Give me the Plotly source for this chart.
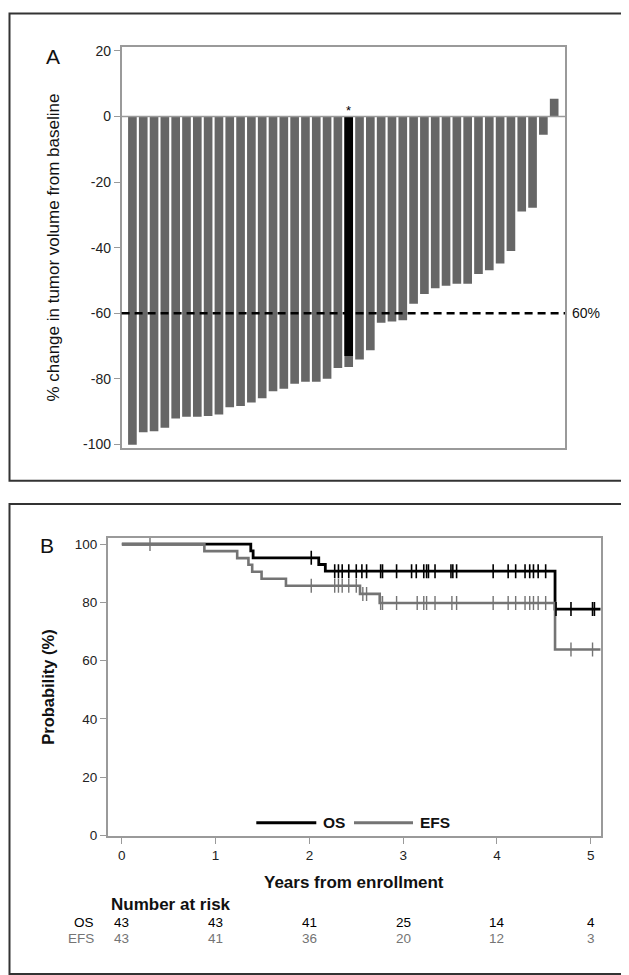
import plotly.graph_objects as go

# ---------------- Panel A data ----------------
patients = list(range(40))
pct_change = [-100.1, -96.3, -96.0, -94.9, -92.1, -91.6, -91.6, -91.3, -90.9, -88.7,
              -88.3, -87.2, -85.9, -83.8, -83.0, -81.5, -80.9, -80.9, -80.0, -76.7,
              -76.4, -74.1, -71.3, -62.9, -62.5, -62.1, -57.1, -54.1, -52.4, -51.6,
              -51.0, -51.0, -48.0, -46.9, -44.8, -41.0, -29.0, -27.8, -5.6, 5.4]
highlight_patient = [20]
highlight_value = [-73.0]
threshold = -60
threshold_label = "60%"
a_ticks = [20, 0, -20, -40, -60, -80, -100]
a_ticktext = ["20", "0", "-20", "-40", "-60", "-80", "-100"]

# ---------------- Panel B data ----------------
os_time = [0, 1.375, 1.40, 2.10, 2.17, 4.62, 5.107]
os_surv = [100, 97.7, 95.3, 93.0, 90.7, 77.7, 77.7]
efs_time = [0, 0.88, 1.23, 1.35, 1.39, 1.49, 1.75, 2.54, 2.75, 4.62, 5.107]
efs_surv = [100, 97.6, 95.2, 92.9, 90.5, 88.1, 85.7, 82.9, 79.8, 63.8, 63.8]
os_censor = [2.02, 2.27, 2.31, 2.35, 2.42, 2.50, 2.56, 2.61, 2.76, 2.78, 2.93, 3.09,
             3.14, 3.22, 3.25, 3.27, 3.34, 3.51, 3.53, 3.57, 3.96, 4.12, 4.20, 4.30,
             4.35, 4.39, 4.44, 4.52, 4.63, 4.79, 5.02, 5.04]
efs_censor = [0.30, 2.02, 2.27, 2.31, 2.35, 2.42, 2.50, 2.57, 2.61, 2.76, 2.78, 2.93,
              3.15, 3.22, 3.25, 3.34, 3.52, 3.57, 3.96, 4.12, 4.20, 4.30, 4.35, 4.39,
              4.44, 4.52, 4.79, 5.02]
risk_times = [0, 1, 2, 3, 4, 5]
os_risk = [43, 43, 41, 25, 14, 4]
efs_risk = [43, 41, 36, 20, 12, 3]

W, H = 629, 975
FONT = "Arial, Liberation Sans, sans-serif"
BAR_GRAY = "#666666"
EFS_GRAY = "#747474"
FRAME_GRAY = "#9a9a9a"
TXT = "#111111"


def px(x):
    return x / W


def py(y):
    return 1 - y / H


def step_at(times, surv, t):
    v = surv[0]
    for ti, si in zip(times, surv):
        if ti <= t:
            v = si
    return v


fig = go.Figure()

# Panel A bars
fig.add_trace(go.Bar(x=patients, y=pct_change, marker=dict(color=BAR_GRAY, line=dict(width=0)),
                     xaxis="x", yaxis="y", showlegend=False))
fig.add_trace(go.Bar(x=highlight_patient, y=highlight_value, marker=dict(color="#000000", line=dict(width=0)),
                     xaxis="x", yaxis="y", showlegend=False))

# Panel B curves
fig.add_trace(go.Scatter(x=os_time, y=os_surv, mode="lines", line=dict(color="#000000", width=2.8, shape="hv"),
                         xaxis="x2", yaxis="y2", showlegend=False))
fig.add_trace(go.Scatter(x=efs_time, y=efs_surv, mode="lines", line=dict(color=EFS_GRAY, width=2.6, shape="hv"),
                         xaxis="x2", yaxis="y2", showlegend=False))
fig.add_trace(go.Scatter(x=os_censor, y=[step_at(os_time, os_surv, t) for t in os_censor], mode="markers",
                         marker=dict(symbol="line-ns", size=10, line=dict(color="#000000", width=1.6)),
                         xaxis="x2", yaxis="y2", showlegend=False))
fig.add_trace(go.Scatter(x=efs_censor, y=[step_at(efs_time, efs_surv, t) for t in efs_censor], mode="markers",
                         marker=dict(symbol="line-ns", size=10, line=dict(color=EFS_GRAY, width=1.4)),
                         xaxis="x2", yaxis="y2", showlegend=False))

axis_common = dict(showline=True, mirror=True, linecolor=FRAME_GRAY, linewidth=1.5, showgrid=False,
                   zeroline=False)

fig.update_layout(
    width=W, height=H,
    margin=dict(l=0, r=0, t=0, b=0),
    paper_bgcolor="white", plot_bgcolor="white",
    barmode="overlay", bargap=0.2,
    font=dict(family=FONT, color=TXT),
    xaxis=dict(domain=[px(113.6), px(557)], range=[-1, 40], showticklabels=False, ticks="",
               anchor="y", **axis_common),
    yaxis=dict(domain=[py(441), py(35.7)], range=[-101.1, 21.1], tickvals=a_ticks, ticktext=a_ticktext,
               ticks="outside", ticklen=6, tickcolor=FRAME_GRAY, anchor="x",
               tickfont=dict(family=FONT, size=14, color="#222222"), **axis_common),
    xaxis2=dict(domain=[px(99.8), px(592.7)], range=[-0.15, 5.107], tickvals=[0, 1, 2, 3, 4, 5],
                ticks="outside", ticklen=6, tickcolor=FRAME_GRAY, anchor="y2",
                tickfont=dict(family=FONT, size=13.5, color="#222222"), **axis_common),
    yaxis2=dict(domain=[py(833.3), py(531.7)], range=[-0.2, 102.2], tickvals=[0, 20, 40, 60, 80, 100],
                ticks="outside", ticklen=6, tickcolor=FRAME_GRAY, anchor="x2",
                tickfont=dict(family=FONT, size=13.5, color="#222222"), **axis_common),
)

shapes = []
# outer panel frames
shapes.append(dict(type="rect", xref="paper", yref="paper", x0=px(1.5), x1=px(627), y0=py(474), y1=py(1.5),
                   line=dict(color="#333333", width=2)))
shapes.append(dict(type="rect", xref="paper", yref="paper", x0=px(1.5), x1=px(627), y0=py(973), y1=py(497.5),
                   line=dict(color="#333333", width=2)))
# zero line panel A
shapes.append(dict(type="line", xref="x domain", yref="y", x0=0, x1=1, y0=0, y1=0,
                   line=dict(color=FRAME_GRAY, width=1.5)))
# threshold dashed line
shapes.append(dict(type="line", xref="x domain", yref="y", x0=0, x1=1, y0=threshold, y1=threshold,
                   line=dict(color="#000000", width=2.5, dash="8px,5px")))
# legend line samples
shapes.append(dict(type="line", xref="paper", yref="paper", x0=px(248.3), x1=px(308.3), y0=py(820), y1=py(820),
                   line=dict(color="#000000", width=3)))
shapes.append(dict(type="line", xref="paper", yref="paper", x0=px(346), x1=px(405), y0=py(820), y1=py(820),
                   line=dict(color=EFS_GRAY, width=3)))
fig.update_layout(shapes=shapes)


def note(text, x, y, size, color=TXT, xanchor="center", xref="paper", yref="paper", **kw):
    return dict(text=text, x=x, y=y, xref=xref, yref=yref, xanchor=xanchor, yanchor="middle",
                showarrow=False, font=dict(family=FONT, size=size, color=color), **kw)


ann = []
ann.append(note("A", px(44.5), py(45), 21))
ann.append(note("B", px(38.5), py(540), 21))
ann.append(note("% change in tumor volume from baseline", px(46), py(238.3), 17, textangle=-90))
ann.append(dict(text="*", x=highlight_patient[0], y=0, xref="x", yref="y", xanchor="center", yanchor="bottom",
                showarrow=False, yshift=-4, font=dict(family=FONT, size=13, color="#000000")))
ann.append(note(threshold_label, px(562), threshold, 14, xanchor="left", yref="y"))
ann.append(note("<b>Probability (%)</b>", px(40), py(682.5), 16.5, textangle=-90))
ann.append(note("<b>Years from enrollment</b>", px(346.3), py(880), 17))
ann.append(note("<b>OS</b>", px(313), py(820), 15.5, xanchor="left"))
ann.append(note("<b>EFS</b>", px(410), py(820), 15.5, xanchor="left"))
ann.append(note("<b>Number at risk</b>", px(101), py(902.7), 17, xanchor="left"))
ann.append(note("OS", px(88), py(921), 13.5, color="#000000", xanchor="right"))
ann.append(note("EFS", px(88), py(937.3), 13.5, color=EFS_GRAY, xanchor="right"))
for t, n in zip(risk_times, os_risk):
    ann.append(note(str(n), t, py(921), 13.5, color="#000000", xref="x2"))
for t, n in zip(risk_times, efs_risk):
    ann.append(note(str(n), t, py(937.3), 13.5, color=EFS_GRAY, xref="x2"))
fig.update_layout(annotations=ann)

fig.write_html("out.html")
